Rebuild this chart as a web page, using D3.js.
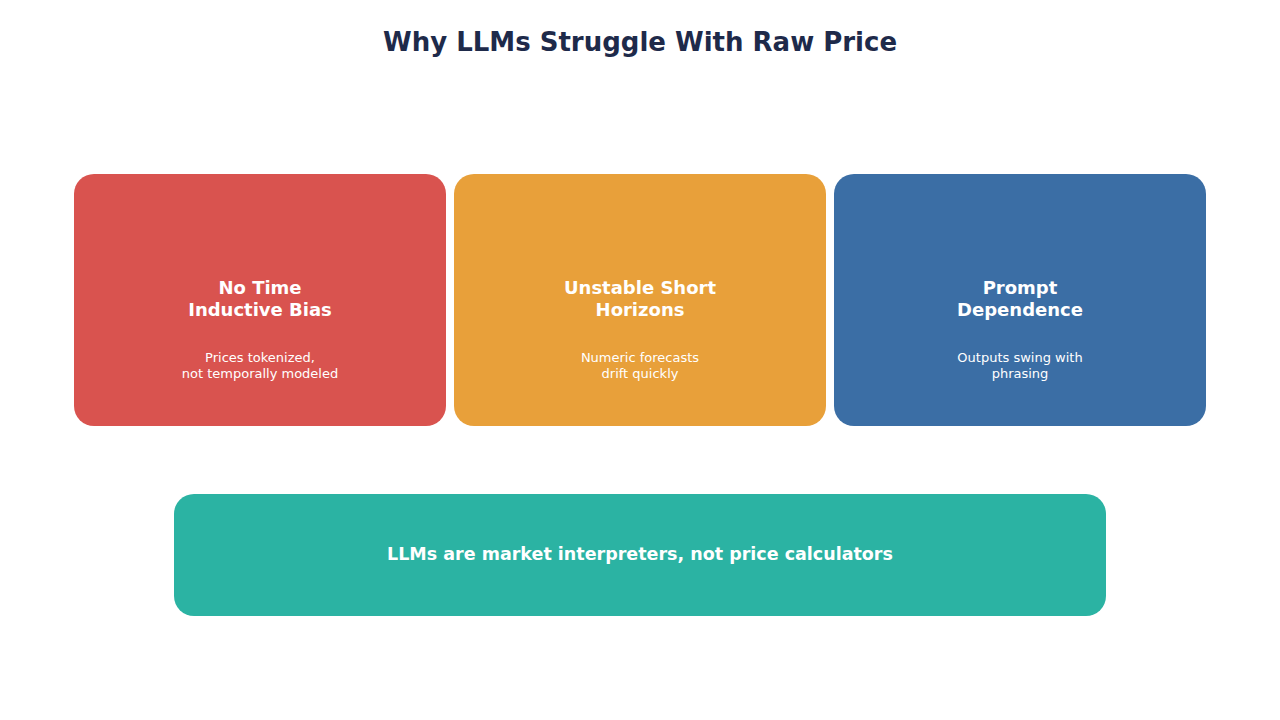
<!DOCTYPE html>
<html><head><meta charset="utf-8">
<script src="https://cdn.jsdelivr.net/npm/d3@7"></script>
<style>body{margin:0;background:#fff}svg{display:block}</style></head>
<body><svg id="c" width="1280" height="720"></svg>
<script>
const categories = ["No Time\nInductive Bias", "Unstable Short\nHorizons", "Prompt\nDependence"];
const subtitles = ["Prices tokenized,\nnot temporally modeled", "Numeric forecasts\ndrift quickly", "Outputs swing with\nphrasing"];
const colors = ["#d9534f", "#e8a03a", "#3b6ea5"];
const conclusion = "LLMs are market interpreters, not price calculators";
const titleText = "Why LLMs Struggle With Raw Price";

const svg = d3.select("#c");
const font = "DejaVu Sans, sans-serif";
svg.append("text").attr("x",640).attr("y",51).attr("text-anchor","middle")
  .attr("font-family",font).attr("font-weight","bold").attr("font-size",26).attr("fill","#1e2a4a").text(titleText);

const x = d3.scaleBand().domain(categories).range([70,1210]).paddingInner(8/380).paddingOuter(4/380);
const g = svg.selectAll("g.card").data(categories).join("g").attr("class","card");
g.append("rect").attr("x",d=>x(d)).attr("y",174).attr("width",x.bandwidth()).attr("height",252)
  .attr("rx",20).attr("fill",(d,i)=>colors[i]);
g.each(function(d,i){
  const cx = x(d)+x.bandwidth()/2, s = d3.select(this);
  d.split("\n").forEach((l,j)=>s.append("text").attr("x",cx).attr("y",294+j*22).attr("text-anchor","middle")
    .attr("font-family",font).attr("font-weight","bold").attr("font-size",18).attr("fill","#fff").text(l));
  subtitles[i].split("\n").forEach((l,j)=>s.append("text").attr("x",cx).attr("y",362+j*16).attr("text-anchor","middle")
    .attr("font-family",font).attr("font-size",13).attr("fill","#fff").text(l));
});
svg.append("rect").attr("x",174).attr("y",494).attr("width",932).attr("height",122).attr("rx",20).attr("fill","#2bb3a3");
svg.append("text").attr("x",640).attr("y",560).attr("text-anchor","middle").attr("font-family",font)
  .attr("font-weight","bold").attr("font-size",17.5).attr("fill","#fff").text(conclusion);
</script></body></html>
